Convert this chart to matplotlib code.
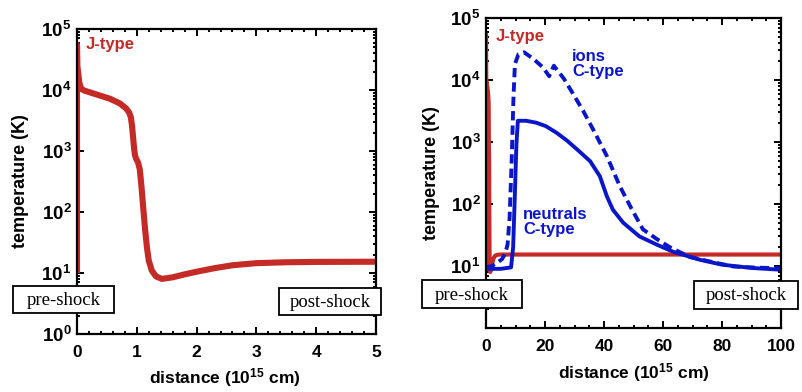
"""Shock temperature profiles: J-type (left) and J vs C-type (right)."""
import math
import matplotlib

matplotlib.use("Agg")
import matplotlib.pyplot as plt
from matplotlib.patches import Rectangle
from matplotlib.ticker import FixedLocator, LogLocator, NullFormatter, FuncFormatter

plt.rcParams["font.family"] = ["Liberation Sans", "DejaVu Sans"]
plt.rcParams["font.weight"] = "bold"
plt.rcParams["mathtext.fontset"] = "custom"
plt.rcParams["mathtext.bf"] = "Liberation Sans:bold"
plt.rcParams["mathtext.rm"] = "Liberation Sans:bold"
plt.rcParams["mathtext.default"] = "bf"

RED = "#c42a26"
BLUE = "#0a16c8"

# J-type shock, distance in 1e15 cm, temperature in K
j_x = [0, 0, 0.005, 0.02, 0.04, 0.07, 0.12, 0.3, 0.55, 0.72, 0.82, 0.87, 0.9, 0.92,
       0.94, 0.955, 0.97, 0.99, 1.02, 1.05, 1.08, 1.11, 1.14, 1.17, 1.2, 1.25, 1.32,
       1.42, 1.6, 1.8, 2.0, 2.3, 2.6, 3.0, 3.5, 4.0, 5.0, 100]
j_T = [10, 5.5e4, 2.5e4, 1.9e4, 1.3e4, 1.05e4, 9.8e3, 8.6e3, 7.2e3, 6e3, 5e3, 4.3e3,
       3.6e3, 2.6e3, 1.6e3, 1.1e3, 850, 740, 650, 500, 250, 110, 50, 26, 16, 11, 8.8,
       8.0, 8.5, 9.5, 10.5, 12, 13.4, 14.5, 15, 15.2, 15.3, 15.3]

# C-type shock, neutrals (solid) and ions (dashed)
n_x = [0, 5, 8.5, 9.2, 9.8, 10.3, 10.8, 13.6, 17, 20.3, 24, 27.5, 31, 35.3, 38.6,
       41, 43, 46.5, 52, 58, 63.4, 72.5, 80, 90, 100]
n_T = [9, 9, 9.5, 20, 150, 900, 2200, 2200, 2050, 1800, 1400, 1050, 750, 490, 280,
       132, 81, 50, 30, 22, 17, 12.6, 10.5, 9.3, 8.7]

i_x = [0, 2, 4, 5.5, 6.5, 7.3, 8.0, 8.7, 9.3, 9.8, 11, 12.9, 16, 19.3, 21.4, 23,
       26.4, 29.5, 32.9, 36.6, 41, 45.4, 49.5, 53.2, 58, 62.4, 69, 77, 84, 92, 100]
i_T = [9.5, 10, 11.5, 13, 16, 22, 60, 500, 5000, 1.8e4, 2.6e4, 2.8e4, 2.2e4, 1.6e4,
       1.15e4, 1.7e4, 1.05e4, 6e3, 3.2e3, 1.5e3, 590, 192, 81, 39, 27, 20, 14, 11.5,
       9.8, 9.4, 9.2]

W, H = 802, 392


def fx(px):
    return px / W


def fy(py):
    return 1 - py / H


def log_label(v, hide_zero=False):
    if hide_zero and v < 2:
        return ""
    return r"$\mathbf{10^{%d}}$" % int(round(math.log10(v)))


def style_axes(ax, xmax, major, minor, hide_zero=False):
    ax.set_yscale("log")
    ax.set_xlim(0, xmax)
    ax.set_ylim(1, 1e5)
    ax.xaxis.set_major_locator(FixedLocator([major * k for k in range(int(xmax / major) + 1)]))
    ax.xaxis.set_minor_locator(FixedLocator([minor * k for k in range(int(xmax / minor) + 1)]))
    ax.yaxis.set_major_locator(LogLocator(base=10, numticks=10))
    ax.yaxis.set_minor_locator(LogLocator(base=10, subs=range(2, 10), numticks=20))
    ax.yaxis.set_minor_formatter(NullFormatter())
    ax.yaxis.set_major_formatter(FuncFormatter(lambda v, p: log_label(v, hide_zero)))
    ax.tick_params(which="both", direction="in", top=True, right=True, width=1.4)
    ax.tick_params(which="major", length=5)
    ax.tick_params(which="minor", length=2.5)
    ax.tick_params(axis="x", pad=8, labelsize=12.5)
    ax.tick_params(axis="y", pad=4, labelsize=13.5)
    for s in ax.spines.values():
        s.set_linewidth(1.6)


def add_box(fig, x0, y0, x1, y1, text):
    fig.add_artist(Rectangle((fx(x0), fy(y1)), fx(x1) - fx(x0), fy(y0) - fy(y1),
                             transform=fig.transFigure, facecolor="white",
                             edgecolor="black", linewidth=1.3, zorder=10))
    fig.text(fx((x0 + x1) / 2), fy((y0 + y1) / 2 + 1), text, ha="center", va="center",
             family=["Liberation Serif", "DejaVu Serif"], fontweight="normal",
             fontsize=13.5, zorder=11)


fig = plt.figure(figsize=(W / 100, H / 100), dpi=100)

# left panel
ax1 = fig.add_axes([fx(77), fy(334), fx(376) - fx(77), fy(29) - fy(334)])
ax1.plot(j_x, j_T, color=RED, lw=4.4, solid_capstyle="butt")
style_axes(ax1, 5, 1, 0.2)
fig.text(fx(86), fy(45), "J-type", color=RED, fontsize=12, fontweight="bold",
         va="center", ha="left")
fig.text(fx(21), fy(181), "temperature (K)", rotation=90, ha="center", va="center",
         fontsize=13, fontweight="bold")
fig.text(fx(225), fy(378), r"distance (10$^{15}$ cm)", ha="center", va="center",
         fontsize=12.5, fontweight="bold")

# right panel
ax2 = fig.add_axes([fx(486), fy(328), fx(781) - fx(486), fy(18) - fy(328)])
ax2.plot(j_x, j_T, color=RED, lw=3.0, solid_capstyle="butt")
ax2.plot(n_x, n_T, color=BLUE, lw=2.8)
ax2.plot(i_x, i_T, color=BLUE, lw=2.8, dashes=(2.4, 1.3))
style_axes(ax2, 100, 20, 5, hide_zero=True)
fig.text(fx(496), fy(36), "J-type", color=RED, fontsize=12, fontweight="bold",
         va="center", ha="left")
fig.text(fx(572), fy(64), "ions\nC-type", color=BLUE, fontsize=12, fontweight="bold",
         va="center", ha="left", linespacing=1.05)
fig.text(fx(523), fy(222), "neutrals\nC-type", color=BLUE, fontsize=12,
         fontweight="bold", va="center", ha="left", linespacing=1.05)
fig.text(fx(432), fy(173), "temperature (K)", rotation=90, ha="center", va="center",
         fontsize=13, fontweight="bold")
fig.text(fx(634), fy(373), r"distance (10$^{15}$ cm)", ha="center", va="center",
         fontsize=12.5, fontweight="bold")

add_box(fig, 13, 286, 114, 313, "pre-shock")
add_box(fig, 279, 288, 381, 315, "post-shock")
add_box(fig, 422, 280, 522, 308, "pre-shock")
add_box(fig, 694, 281, 798, 309, "post-shock")

fig.savefig("out.png", dpi=100)
